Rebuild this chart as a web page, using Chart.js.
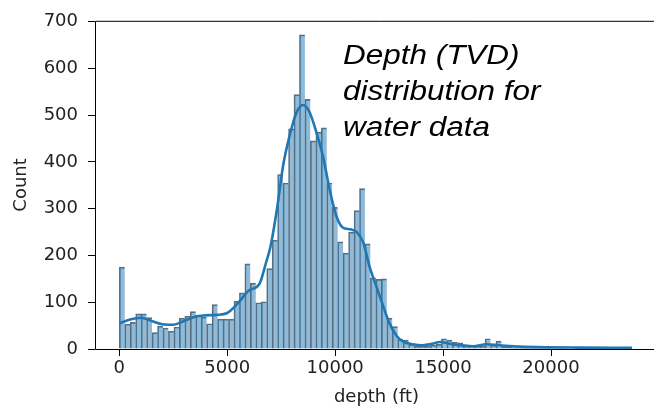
<!DOCTYPE html>
<html><head><meta charset="utf-8">
<script src="https://cdn.jsdelivr.net/npm/chart.js@4"></script>
<style>
html,body{margin:0;padding:0;overflow:hidden;background:#fff;width:654px;height:414px}
#wrap{position:relative;width:664px;height:414px}
#c{display:block}
#note{position:absolute;left:343px;top:37px;font-family:"Liberation Sans",Arial,sans-serif;font-style:italic;font-size:27px;line-height:36px;color:#000;transform:scaleX(1.165);transform-origin:0 0;white-space:nowrap}
</style></head><body>
<div id="wrap"><canvas id="c" width="664" height="414"></canvas>
<div id="note">Depth (TVD)<br>distribution for<br>water data</div></div>
<script>
// histogram bins (ft) and counts
const binWidth = 252.9;
const binCounts = [175,53,57,75,75,67,35,49,45,38,
  47,66,70,80,72,68,54,95,64,64,
  64,102,120,182,141,99,101,172,233,373,
  355,471,544,672,534,445,464,473,355,303,
  229,205,250,296,343,225,152,149,150,66,
  48,21,19,10,6,6,6,8,10,22,
  19,15,13,8,7,6,6,22,8,17,
  5,4,3,3,2,2,2,1,1,0,
  1,1,0,1,0,1,0,1,0,0,
  1,1,0,1];
// KDE curve
const kdeX = [0,500,1000,1500,2000,2500,3000,3500,4000,4500,5000,5500,6000,6500,6800,7000,7300,7600,7900,8200,8500,8800,9100,9450,9750,10050,10350,10700,11000,11300,11600,11900,12200,12500,12850,13150,13600,14050,14500,14850,15450,16400,17000,17600,18550,19800,21300,23750];
const kdeY = [55,63,67,60,53,52,60,69,72,73,77,98,125,140,185,218,298,395,458,505,522,508,468,409,340,285,260,256,250,228,175,135,95,57,28,16,10,8,11,15,10,6,10,8,5,3.5,3,2.5];
const xTicks = [0,5000,10000,15000,20000];
const yTicks = [0,100,200,300,400,500,600,700];

const barData = binCounts.map((v,i)=>({x:(i+0.5)*binWidth,y:v}));
const kdeData = kdeX.map((x,i)=>({x:x,y:kdeY[i]}));

const frame = {
  id:'frame',
  afterDatasetsDraw(chart){
    const {ctx,chartArea:a} = chart;
    ctx.save();
    ctx.strokeStyle='#000';ctx.lineWidth=1;
    ctx.beginPath();
    ctx.moveTo(a.left+0.5,a.bottom+0.5);
    ctx.lineTo(a.left+0.5,a.top+0.5);
    ctx.lineTo(chart.width,a.top+0.5);
    ctx.moveTo(a.left+0.5,a.bottom+0.5);
    ctx.lineTo(chart.width,a.bottom+0.5);
    ctx.stroke();
    ctx.restore();
  }
};

const tickFont = {family:'"DejaVu Sans", sans-serif', size:18};
new Chart(document.getElementById('c'),{
  type:'bar',
  data:{datasets:[
    {type:'line',data:kdeData,borderColor:'#1f77b4',borderWidth:2.6,pointRadius:0,fill:false,cubicInterpolationMode:'monotone',order:0},
    {type:'bar',data:barData,backgroundColor:'rgba(31,119,180,0.5)',borderColor:'rgba(45,62,80,0.75)',borderWidth:{top:1,left:1,right:0,bottom:0},borderSkipped:false,barPercentage:1,categoryPercentage:1,order:1}
  ]},
  plugins:[frame],
  options:{
    responsive:false,animation:false,
    layout:{padding:{left:0,right:6,top:14,bottom:0}},
    plugins:{legend:{display:false},tooltip:{enabled:false}},
    scales:{
      x:{type:'linear',min:-1126,max:24957,offset:false,
        grid:{offset:false,drawOnChartArea:false,drawTicks:true,tickLength:7,color:'#000'},
        border:{display:false},
        afterBuildTicks(s){s.ticks=xTicks.map(v=>({value:v}));},
        afterFit(s){s.height=65;},
        ticks:{font:tickFont,color:'#222',padding:2,maxRotation:0,autoSkip:false,callback:v=>String(v)},
        title:{display:true,text:'depth (ft)',font:tickFont,color:'#222',padding:{top:0,bottom:6}}
      },
      y:{min:0,max:702,
        grid:{drawOnChartArea:false,drawTicks:true,tickLength:7,color:'#000'},
        border:{display:false},
        afterBuildTicks(s){s.ticks=yTicks.map(v=>({value:v}));},
        afterFit(s){s.width=95;},
        ticks:{font:tickFont,color:'#222',padding:10,callback:v=>String(v)},
        title:{display:true,text:'Count',font:tickFont,color:'#222',padding:{top:11,bottom:0}}
      }
    }
  }
});
</script>
</body></html>
